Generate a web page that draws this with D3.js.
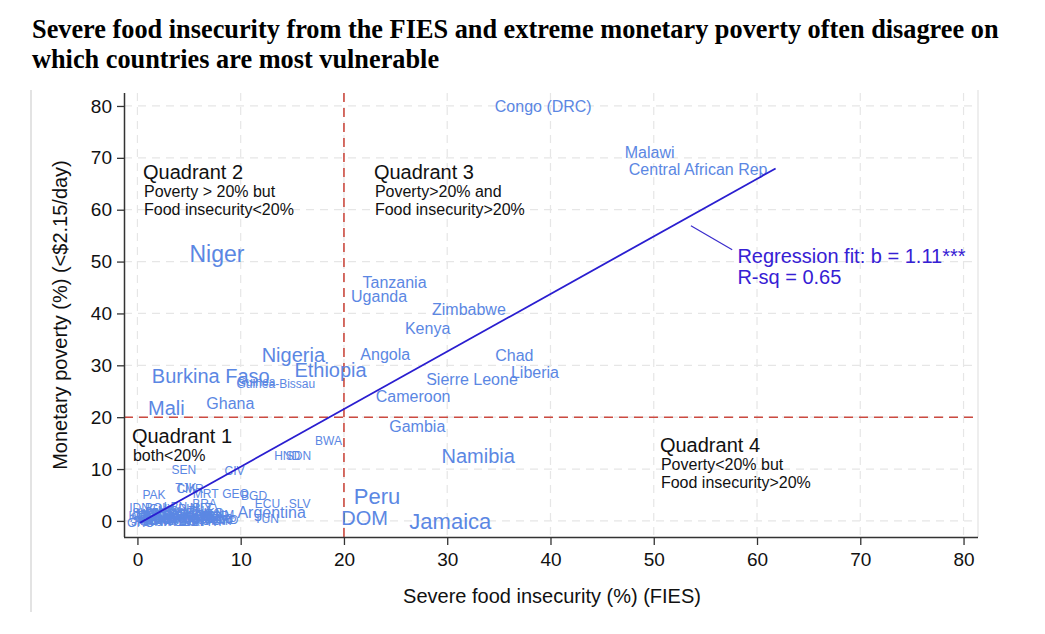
<!DOCTYPE html>
<html><head><meta charset="utf-8">
<script src="https://cdn.jsdelivr.net/npm/d3@7/dist/d3.min.js"></script>
<style>body{margin:0;background:#fff;}svg{display:block;}</style>
</head><body>
<svg id="c" width="1045" height="634"></svg>
<script>
// ---- data ----
const titleLines = ["Severe food insecurity from the FIES and extreme monetary poverty often disagree on",
                    "which countries are most vulnerable"];
const xTicks = [0,10,20,30,40,50,60,70,80];
const yTicks = [0,10,20,30,40,50,60,70,80];
const xLabel = "Severe food insecurity (%) (FIES)";
const yLabel = "Monetary poverty (%) (<$2.15/day)";
// country label, FIES (%), poverty (%), population class
const countries = ["Congo (DRC)","Malawi","Central African Rep","Niger","Tanzania","Uganda","Zimbabwe","Kenya",
  "Nigeria","Angola","Chad","Ethiopia","Burkina Faso","Guinea","Guinea-Bissau","Sierre Leone","Liberia",
  "Mali","Ghana","Cameroon","Gambia","BWA","HND","SDN","Namibia","SEN","CIV","Peru","DOM","Jamaica",
  "Argentina","ECU","SLV","TUN","GEO","BGD","MRT","TJK","CMR","PAK","BRA","IDN","MDA","MKD"];
const fies = [39.3,49.6,54.3,7.7,24.9,23.4,32.1,28.1,15.1,24.0,36.5,18.7,7.1,11.5,13.4,32.4,38.5,
  2.8,9.0,26.7,27.1,18.5,14.5,15.6,33.0,4.5,9.4,23.2,22.0,30.3,13.0,12.6,15.7,12.5,9.5,11.3,6.6,4.7,5.1,1.6,6.5,0.2,2.7,8.5];
const poverty = [80.0,71.1,67.8,51.4,46.0,43.2,40.8,37.2,32.0,32.2,32.0,29.1,27.9,26.8,26.5,27.2,28.7,
  21.8,22.7,24.1,18.3,15.4,12.5,12.5,12.5,9.8,9.6,4.8,0.6,0.0,1.7,3.3,3.3,0.4,5.2,4.8,5.2,6.3,6.1,5.0,3.3,2.5,1.5,0.3];
const popClass = ["M","M","M","XXL","M","M","M","M","L","M","M","L","L","S","S","M","M",
  "L","M","M","M","S","S","S","L","S","S","XL","L","XL","M","S","S","S","S","S","S","S","S","S","S","S","S","S"];
// small crowded labels near the origin
const clusterCodes = ["ARM","AZE","BLR","CHN","COL","CRI","DZA","EGY","IND","IRQ","JOR","KAZ","KGZ","LKA","MAR",
  "MEX","MNG","NPL","PAN","PHL","THA","UKR","VNM","ALB","BIH","SRB","MYS","TUR","IRN","PRY",
  "GTM","BOL","LBN","KOR","URY","CHL","MLT","SLB","GRC","ITA","POL","ROU","BGR","HRV","SVK",
  "LTU","LVA","EST","HUN","CZE","PRT","ESP","CYP","SVN","MNE","GEO2","UZB","TTO","FJI","GUY","DJI","EGY2","JPN","CAN"];
const clusterX = [0.3,0.9,1.4,2.0,2.5,3.0,3.5,4.0,4.5,5.0,5.5,6.0,6.5,7.0,7.5,
  0.8,1.8,2.8,3.8,4.8,5.8,6.8,7.8,0.5,1.2,2.2,3.2,4.2,5.2,6.2,
  7.2,1.6,3.4,0.1,2.6,4.4,5.9,7.9,0.0,0.6,1.1,1.7,2.3,2.9,3.6,
  4.1,4.7,5.3,5.7,6.3,6.9,7.4,8.1,0.4,1.9,3.1,4.9,6.1,7.1,2.1,3.9,5.1,0.2,1.3];
const clusterY = [0.6,0.2,0.8,0.3,1.2,0.5,0.9,0.4,1.6,0.7,0.3,1.0,0.4,0.8,0.3,
  1.4,1.6,2.0,1.8,2.3,1.9,1.5,1.2,0.0,-0.2,0.1,-0.1,0.0,-0.2,0.1,
  0.0,2.6,2.8,1.0,-0.1,-0.2,2.5,0.5,-0.3,0.9,1.1,0.2,1.3,0.7,0.2,
  1.1,-0.1,0.6,1.3,0.8,-0.2,1.0,0.1,1.5,0.5,1.4,0.9,0.4,1.4,2.4,0.6,-0.1,-0.2,0.5];
const fit = {b:1.11, a:-0.65, x0:0.24, x1:61.8, label:"Regression fit: b = 1.11***", r2:"R-sq = 0.65"};
const threshold = 20;
const quadrants = [
  {x:0.54, y:65.9, head:"Quadrant 2", lines:["Poverty > 20% but","Food insecurity<20%"]},
  {x:22.9, y:65.9, head:"Quadrant 3", lines:["Poverty>20% and","Food insecurity>20%"]},
  {x:-0.53, y:15.0, head:"Quadrant 1", lines:["both<20%"]},
  {x:50.6, y:13.3, head:"Quadrant 4", lines:["Poverty<20% but","Food insecurity>20%"]}
];

// ---- drawing ----
const svg = d3.select("#c");
const F = "Liberation Sans, Arial, Helvetica, sans-serif";
const x = d3.scaleLinear().domain([-1.3, 81.4]).range([124, 978]);
const y = d3.scaleLinear().domain([-3.1, 82.5]).range([537, 93]);

// outer light borders
svg.append("line").attr("x1",31).attr("x2",31).attr("y1",90).attr("y2",612)
  .attr("stroke","#e3e3e3").attr("stroke-width",2);
svg.append("line").attr("x1",978).attr("x2",978).attr("y1",90).attr("y2",537)
  .attr("stroke","#e8e8e8").attr("stroke-width",1.5);

// title
svg.append("g").selectAll("text").data(titleLines).join("text")
  .attr("x",32).attr("y",(d,i)=>38+i*30)
  .attr("font-family","Liberation Serif, Times New Roman, serif").attr("font-weight","bold")
  .attr("font-size",26.3).attr("fill","#000").text(d=>d);

// grid
const grid = svg.append("g");
grid.selectAll("line.gx").data(xTicks).join("line")
  .attr("x1",d=>x(d)).attr("x2",d=>x(d)).attr("y1",y.range()[1]).attr("y2",y.range()[0])
  .attr("stroke","#e6e6e6").attr("stroke-width",1.2).attr("stroke-dasharray","8,6");
grid.selectAll("line.gy").data(yTicks).join("line")
  .attr("x1",x.range()[0]).attr("x2",x.range()[1]).attr("y1",d=>y(d)).attr("y2",d=>y(d))
  .attr("stroke","#e6e6e6").attr("stroke-width",1.2).attr("stroke-dasharray","8,6");

// threshold lines
svg.append("line").attr("x1",x(threshold)).attr("x2",x(threshold)).attr("y1",y.range()[1]).attr("y2",y.range()[0])
  .attr("stroke","#cc4a40").attr("stroke-width",1.6).attr("stroke-dasharray","9,6");
svg.append("line").attr("x1",x.range()[0]).attr("x2",975).attr("y1",y(threshold)).attr("y2",y(threshold))
  .attr("stroke","#cc4a40").attr("stroke-width",1.6).attr("stroke-dasharray","9,6");

// quadrant notes
const q = svg.append("g").attr("font-family",F).attr("fill","#111");
quadrants.forEach(d=>{
  q.append("text").attr("x",x(d.x)).attr("y",y(d.y)).attr("font-size",20).text(d.head);
  d.lines.forEach((t,i)=>{
    q.append("text").attr("x",x(d.x)+1).attr("y",y(d.y)+18+i*18).attr("font-size",16).text(t);
  });
});

// labels
const sizeOf = {XXL:23, XL:22, L:20, M:16, S:12};
const lab = svg.append("g").attr("font-family",F).attr("fill","#5b87e3").attr("text-anchor","middle");
lab.selectAll("text.cl").data(clusterCodes).join("text").attr("class","cl")
  .attr("x",(d,i)=>x(clusterX[i])+3).attr("y",(d,i)=>y(clusterY[i]))
  .attr("dy","0.35em").attr("font-size",12).text(d=>d.replace(/\d/g,""));
lab.selectAll("text.c").data(countries).join("text").attr("class","c")
  .attr("x",(d,i)=>x(fies[i])).attr("y",(d,i)=>y(poverty[i]))
  .attr("dy","0.35em").attr("font-size",(d,i)=>sizeOf[popClass[i]]).text(d=>d);

// regression fit
svg.append("line").attr("x1",x(fit.x0)).attr("y1",y(fit.a+fit.b*fit.x0))
  .attr("x2",x(fit.x1)).attr("y2",y(fit.a+fit.b*fit.x1))
  .attr("stroke","#2a1ed0").attr("stroke-width",1.8);
svg.append("line").attr("x1",x(53.6)).attr("y1",y(56.9)).attr("x2",x(57.6)).attr("y2",y(52.3))
  .attr("stroke","#3a2ccc").attr("stroke-width",1.2);
svg.append("text").attr("x",x(58.1)).attr("y",y(49.7)).attr("font-family",F).attr("font-size",20)
  .attr("fill","#3620d4").text(fit.label);
svg.append("text").attr("x",x(58.1)).attr("y",y(45.7)).attr("font-family",F).attr("font-size",20)
  .attr("fill","#3620d4").text(fit.r2);

// axes
const ax = svg.append("g").attr("transform","translate(0,537)")
  .call(d3.axisBottom(x).tickValues(xTicks).tickSize(8).tickPadding(8));
const ay = svg.append("g").attr("transform","translate(124,0)")
  .call(d3.axisLeft(y).tickValues(yTicks).tickSize(7).tickPadding(5));
[ax,ay].forEach(g=>{
  g.select(".domain").attr("stroke","#333").attr("stroke-width",1.5);
  g.selectAll(".tick line").attr("stroke","#333").attr("stroke-width",1.3);
  g.selectAll(".tick text").attr("font-family",F).attr("font-size",19).attr("fill","#111");
});
ax.select(".domain").attr("d","M124,0.5H978");
ay.select(".domain").attr("d","M0.5,537V93");

svg.append("text").attr("x",552).attr("y",603).attr("text-anchor","middle")
  .attr("font-family",F).attr("font-size",20).attr("fill","#111").text(xLabel);
svg.append("text").attr("transform","translate(67,315) rotate(-90)").attr("text-anchor","middle")
  .attr("font-family",F).attr("font-size",20).attr("fill","#111").text(yLabel);
</script>
</body></html>
